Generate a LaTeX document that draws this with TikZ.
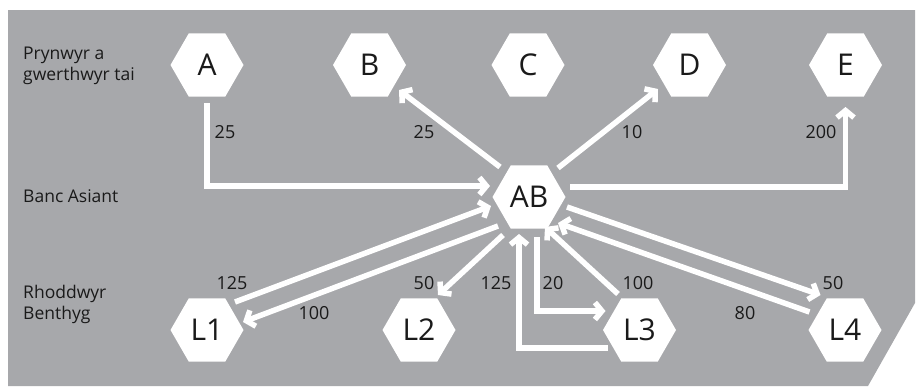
\documentclass[tikz,border=0pt]{standalone}
\usepackage{fontspec}
\setmainfont{Open Sans}
\usetikzlibrary{shapes.geometric,arrows.meta,calc}
\definecolor{bg}{HTML}{A7A8AB}
\definecolor{txt}{HTML}{1A1A1A}
\begin{document}
\begin{tikzpicture}[x=1pt,y=-1pt,
  hex/.style={regular polygon,regular polygon sides=6,minimum size=73pt,inner sep=0pt,fill=white,text=txt,font=\fontsize{30}{30}\selectfont},
  arr/.style={draw=white,line width=5.5pt,-{Straight Barb[length=7pt,width=17pt]}},
  num/.style={font=\fontsize{18}{18}\selectfont,text=txt,inner sep=0pt},
  lab/.style={font=\fontsize{17.5}{21}\selectfont,text=txt,align=left,anchor=west,inner sep=0pt}]
\useasboundingbox (0,0) rectangle (921,386);
\fill[bg] (8,10) -- (915,10) -- (915,303) -- (868,386) -- (8,386) -- cycle;
% row labels
\node[lab] (r1) at (23,66) {Prynwyr a\\gwerthwyr tai};
\node[lab] (r2) at (23,196) {Banc Asiant};
\node[lab] (r3) at (23,304) {Rhoddwyr\\Benthyg};
% hexagons
\node[hex] (A) at (207,65) {A};
\node[hex] (B) at (369.5,65) {B};
\node[hex] (C) at (528,65) {C};
\node[hex] (D) at (689.5,65) {D};
\node[hex] (E) at (845.5,65) {E};
\node[hex] (AB) at (529,197) {AB};
\node[hex] (L1) at (207,330) {L1};
\node[hex] (L2) at (419,330) {L2};
\node[hex] (L3) at (639.5,330) {L3};
\node[hex] (L4) at (845,330) {L4};
% arrows
\draw[arr] ($(A)+(0,38)$) |- ($(AB)+(-39,-11)$);
\draw[arr] ($(AB)+(-29,-30)$) -- ($(B)+(29.5,25)$);
\draw[arr] ($(AB)+(29,-29)$) -- ($(D)+(-31.5,24)$);
\draw[arr] ($(AB)+(41,-10)$) -| ($(E)+(0,42)$);
\draw[arr] ($(L1)+(28,-28)$) -- ($(AB)+(-38,9)$);
\draw[arr] ($(AB)+(-31,29)$) -- ($(L1)+(36,-8)$);
\draw[arr] ($(AB)+(-26,38)$) -- ($(L2)+(19,-35)$);
\draw[arr] ($(L3)+(-31.5,18)$) -| ($(AB)+(-10,37)$);
\draw[arr] ($(AB)+(8,40)$) |- ($(L3)+(-34,-19)$);
\draw[arr] ($(L3)+(-21.5,-36)$) -- ($(AB)+(16,30)$);
\draw[arr] ($(AB)+(38,10)$) -- ($(L4)+(-24.5,-35)$);
\draw[arr] ($(L4)+(-35.5,-18)$) -- ($(AB)+(29,26)$);
% numbers
\node[num] (n1) at (225,132) {25};
\node[num] (n2) at (424,132) {25};
\node[num] (n3) at (632,132) {10};
\node[num] (n4) at (821,132) {200};
\node[num] (n5) at (232,283) {125};
\node[num] (n6) at (314,313) {100};
\node[num] (n7) at (424,283) {50};
\node[num] (n8) at (496,283) {125};
\node[num] (n9) at (553,283) {20};
\node[num] (n10) at (638,283) {100};
\node[num] (n11) at (745,313) {80};
\node[num] (n12) at (833,283) {50};
\end{tikzpicture}
\end{document}
